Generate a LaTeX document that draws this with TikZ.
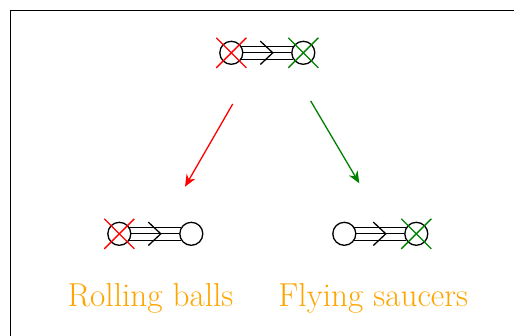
\documentclass[tikz,border=0pt]{standalone}
\usetikzlibrary{arrows.meta,calc}
\definecolor{dgreen}{RGB}{0,128,0}
\definecolor{lorange}{RGB}{255,165,0}
\tikzset{
  ball/.style={circle,draw,line width=1.3pt,minimum size=23pt,inner sep=0pt},
  bond/.style={line width=1.1pt},
  chev/.style={line width=1.3pt},
  crossline/.style={line width=1.3pt},
  react/.style={line width=1.3pt,-{Stealth[length=12pt,width=10pt]}},
  lbl/.style={text=lorange,font=\fontsize{33.2}{40}\selectfont,anchor=base,inner sep=0pt}
}
\newcommand{\molecule}[3]{%
  \node[ball] (#1L) at (#2,#3) {};
  \node[ball] (#1R) at ($(#2,#3)+(72,0)$) {};
  \draw[bond] (#1L.33) -- (#1R.147);
  \draw[bond] (#1L.east) -- (#1R.west);
  \draw[bond] (#1L.-33) -- (#1R.-147);
  \coordinate (#1M) at ($(#1L.center)!0.5!(#1R.center)$);
  \draw[chev] ($(#1M)+(-7,-11.7)$) -- ($(#1M)+(5.5,0)$) -- ($(#1M)+(-7,11.7)$);
}
\newcommand{\xmark}[2]{%
  \draw[crossline,#2] ($(#1.center)+(-15,-15)$) -- ($(#1.center)+(15,15)$);
  \draw[crossline,#2] ($(#1.center)+(-15,15)$) -- ($(#1.center)+(15,-15)$);
}
\begin{document}
\begin{tikzpicture}[x=1pt,y=-1pt]
\useasboundingbox (0,0) rectangle (514,335);
\clip (0,0) rectangle (514,335);
\draw[line width=0.8pt] (10,10) rectangle (540,360);
\molecule{t}{231.3}{52.8}
\xmark{tL}{red}
\xmark{tR}{dgreen}
\molecule{a}{119.3}{233.8}
\xmark{aL}{red}
\molecule{b}{344.3}{233.8}
\xmark{bR}{dgreen}
\coordinate (r1) at (232.7,104);
\coordinate (r2) at (185,186.7);
\coordinate (g1) at (310.7,101);
\coordinate (g2) at (359.3,183.3);
\draw[react,red] (r1) -- (r2);
\draw[react,dgreen] (g1) -- (g2);
\node[lbl] (rb) at (150.5,306.7) {Rolling balls};
\node[lbl] (fs) at (373.3,306.7) {Flying saucers};
\end{tikzpicture}
\end{document}
